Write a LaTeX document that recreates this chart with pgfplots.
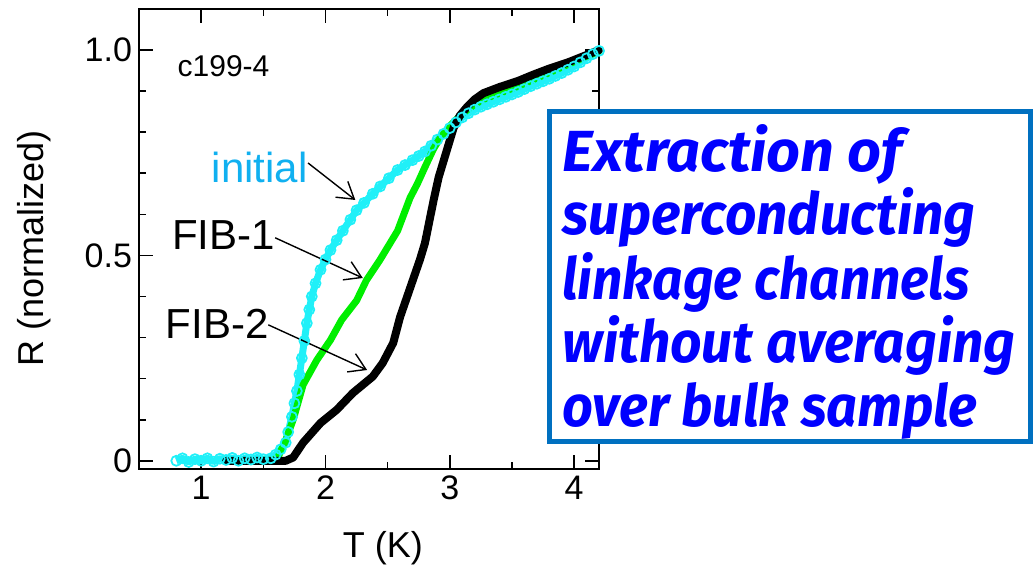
\documentclass[border=0pt]{standalone}
\usepackage{pgfplots}
\pgfplotsset{compat=1.18}
\usepackage{fontspec}
\usepackage{graphicx}
\setmainfont{Liberation Sans}
\newfontfamily\boxfont{Fira Sans}
\usetikzlibrary{arrows.meta}
\definecolor{cyanm}{HTML}{20F0F8}
\definecolor{initblue}{HTML}{10B0F0}
\definecolor{fgreen}{HTML}{00EE00}
\definecolor{boxblue}{HTML}{0070C0}
\definecolor{txtblue}{HTML}{0000FF}
\newcommand\fitw[2]{\resizebox{#1}{\height}{#2}}

\pgfplotstableread{
x y
0.80 0.000
0.85 0.006
0.90 -0.003
0.95 0.004
1.00 0.000
1.05 0.006
1.10 -0.002
1.15 0.005
1.20 0.002
1.25 0.007
1.30 0.000
1.35 0.006
1.40 0.003
1.45 0.008
1.50 0.004
1.56 0.006
1.60 0.015
1.64 0.028
1.68 0.044
1.70 0.070
1.73 0.107
1.75 0.140
1.77 0.170
1.79 0.210
1.81 0.250
1.83 0.292
1.85 0.335
1.87 0.368
1.89 0.400
1.92 0.432
1.96 0.465
2.00 0.490
2.04 0.513
2.09 0.537
2.14 0.560
2.20 0.587
2.25 0.610
2.31 0.628
2.38 0.650
2.44 0.668
2.51 0.688
2.58 0.708
2.64 0.720
2.70 0.732
2.75 0.742
2.80 0.753
2.85 0.767
2.90 0.782
2.95 0.796
3.00 0.810
3.05 0.824
3.10 0.836
3.15 0.846
3.20 0.855
3.25 0.862
3.30 0.868
3.35 0.874
3.40 0.880
3.45 0.886
3.50 0.892
3.55 0.898
3.60 0.905
3.65 0.912
3.70 0.918
3.75 0.924
3.80 0.930
3.85 0.937
3.90 0.944
3.95 0.952
4.00 0.960
4.05 0.970
4.10 0.980
4.15 0.990
4.20 0.998
}\initial

\pgfplotstableread{
x y
1.20 0.000
1.58 0.001
1.62 0.010
1.68 0.050
1.74 0.100
1.82 0.185
1.93 0.245
2.04 0.294
2.13 0.343
2.25 0.390
2.33 0.440
2.44 0.490
2.50 0.520
2.58 0.560
2.63 0.600
2.68 0.640
2.74 0.675
2.80 0.715
2.87 0.760
2.93 0.790
3.00 0.815
3.10 0.845
3.20 0.868
3.27 0.880
3.40 0.895
3.55 0.912
3.67 0.928
3.80 0.945
3.95 0.965
4.10 0.985
4.20 0.997
}\fibone

\pgfplotstableread{
x y
1.20 0.000
1.68 0.000
1.74 0.008
1.82 0.044
1.96 0.092
2.09 0.124
2.22 0.165
2.30 0.185
2.38 0.205
2.46 0.238
2.545 0.287
2.60 0.350
2.64 0.385
2.68 0.420
2.72 0.455
2.76 0.490
2.80 0.530
2.84 0.590
2.87 0.635
2.91 0.690
2.95 0.730
3.00 0.780
3.03 0.810
3.08 0.840
3.14 0.862
3.20 0.880
3.27 0.895
3.40 0.910
3.55 0.925
3.67 0.940
3.80 0.955
3.95 0.970
4.10 0.988
4.20 1.000
}\fibtwo

\begin{document}
\begin{tikzpicture}
\path[use as bounding box] (0pt,0pt) rectangle (517pt,286.5pt);
\begin{axis}[
  at={(69.5pt,52pt)}, anchor=south west,
  scale only axis, width=230pt, height=230pt,
  xmin=0.5, xmax=4.2, ymin=-0.02, ymax=1.1,
  xtick={1,2,3,4}, ytick={0,0.5,1}, yticklabels={0,0.5,1.0},
  minor x tick num=1, minor y tick num=4,
  tick align=inside, major tick length=7pt, minor tick length=3.5pt,
  axis line style={line width=1pt},
  every tick/.style={black, line width=0.8pt},
  tick label style={font=\fontsize{17}{20}\selectfont},
  /pgf/number format/assume math mode=true,
  xlabel={T (K)}, ylabel={R (normalized)},
  label style={font=\fontsize{18}{21}\selectfont},
  xlabel style={at={(axis description cs:0.53,-0.172)}, anchor=center},
  ylabel style={at={(axis description cs:-0.228,0.48)}, anchor=center},
  clip=false,
]
\addplot[cyanm, line width=3.5pt, line join=round, mark=o, mark size=2.5pt, mark options={line width=0.9pt, solid, fill=white}] table[x=x,y=y] {\initial};
\addplot[fgreen, line width=3.5pt, line join=round, line cap=round] table[x=x,y=y] {\fibone};
\addplot[black, line width=4pt, line join=round, line cap=round] table[x=x,y=y] {\fibtwo};

\node[font=\fontsize{15}{18}\selectfont] at (axis cs:1.18,0.96) {c199-4};
\node[font=\fontsize{21}{24}\selectfont, initblue] at (axis cs:1.47,0.715) {initial};
\node[font=\fontsize{21}{24}\selectfont] at (axis cs:1.18,0.55) {FIB-1};
\node[font=\fontsize{21}{24}\selectfont] at (axis cs:1.13,0.333) {FIB-2};
\draw[-{Straight Barb[length=8pt,width=10pt]}, line width=0.7pt] (axis cs:1.86,0.725) -- (axis cs:2.24,0.635);
\draw[-{Straight Barb[length=8pt,width=10pt]}, line width=0.7pt] (axis cs:1.595,0.543) -- (axis cs:2.30,0.445);
\draw[-{Straight Barb[length=8pt,width=10pt]}, line width=0.7pt] (axis cs:1.54,0.331) -- (axis cs:2.335,0.221);
\end{axis}
\draw[boxblue, line width=2.5pt, fill=white] (274.75pt,65.75pt) rectangle (515pt,230.75pt);
\begin{scope}[every node/.style={anchor=base west, inner sep=0pt, text=txtblue, font=\boxfont\bfseries\itshape\fontsize{29}{32}\selectfont}]
\node at (281pt,200.5pt) {\fitw{170pt}{Extraction of}};
\node at (281pt,169pt) {\fitw{206.5pt}{superconducting}};
\node at (281pt,136.5pt) {\fitw{203.5pt}{linkage channels}};
\node at (281pt,105pt) {\fitw{226.5pt}{without averaging}};
\node at (281pt,73pt) {\fitw{207.5pt}{over bulk sample}};
\end{scope}
\end{tikzpicture}
\end{document}
